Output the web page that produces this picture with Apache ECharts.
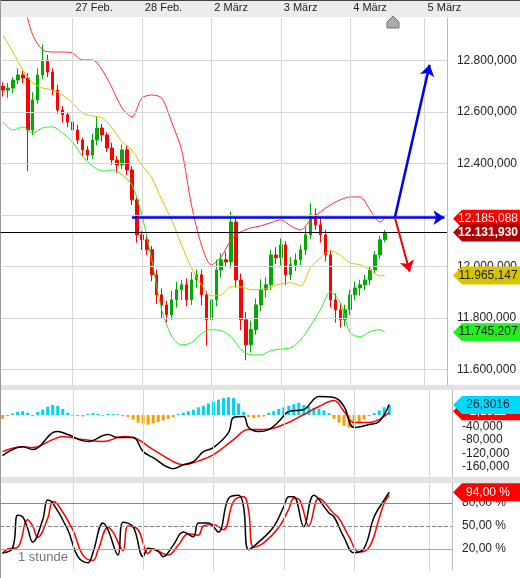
<!DOCTYPE html>
<html>
<head>
<meta charset="utf-8">
<script src="https://cdn.jsdelivr.net/npm/echarts@6/dist/echarts.min.js"></script>
<style>html,body{margin:0;padding:0;background:#fff}#chart{width:520px;height:578px}</style>
</head>
<body>
<div id="chart"></div>
<script>
// Kurse in Tausend (12800 = 12.800,000)
var closes = [12685,12693,12724,12744,12732,12530,12647,12744,12802,12755,12685,12608,12589,12561,12530,12491,12453,12433,12491,12538,
	12511,12460,12414,12394,12453,12375,12259,12123,12104,12065,11968,11890,11851,11813,11871,11910,11929,11871,11948,11968,
	11890,11793,11871,11987,12026,12018,12173,11948,11793,11696,11755,11851,11910,11929,12045,12034,12084,11968,12007,12026,
	12065,12123,12201,12162,12123,12045,11871,11832,11793,11832,11890,11917,11929,11948,11987,12045,12104,12132];
var wickUp = [15,20,12,25,15,20,30,25,60,20,15,20,15,10,15,20,10,15,25,45,
	15,10,20,15,20,15,15,10,15,20,15,20,25,15,35,30,20,25,30,20,
	20,15,30,40,25,30,40,20,25,30,35,25,40,30,20,30,25,15,30,25,
	20,30,45,25,30,20,20,25,25,20,20,25,20,20,15,15,15,10];
var wickDn = [25,30,20,15,20,160,20,15,15,20,20,15,30,20,20,15,25,20,15,20,
	25,15,20,30,15,20,20,30,40,20,25,35,50,30,20,30,40,25,20,30,
	40,100,20,25,30,20,25,30,40,60,30,20,25,30,20,25,30,40,20,25,
	20,20,15,20,30,25,30,50,30,25,20,20,30,20,20,15,15,10];
var dayIdx = [14, 28, 42, 56, 70, 85];
var dayNames = ['27 Feb.', '28 Feb.', '2 März', '3 März', '4 März', '5 März'];
// Bollinger (jede zweite Kerze, letzter Wert Kerze 77)
var bandIdx = [0,2,4,6,8,10,12,14,16,18,20,22,24,26,28,30,32,34,36,38,40,42,44,46,48,50,52,54,56,58,60,62,64,66,68,70,72,74,76,77];
var bandUpper = [13100,13040,13015,12899,12841,12833,12833,12829,12802,12802,12763,12693,12616,12581,12654,12666,12654,12561,12453,12239,
	12084,12007,12038,12104,12135,12150,12158,12170,12181,12158,12142,12181,12212,12239,12259,12270,12270,12220,12173,12189];
var bandMid = [12899,12833,12763,12713,12693,12686,12666,12635,12596,12585,12577,12538,12484,12453,12394,12344,12259,12181,12084,11995,
	11929,11886,11890,11921,11921,11910,11910,11921,11933,11937,11925,11995,12034,12061,12045,12014,12007,11987,11964,11965];
var bandLower = [12561,12530,12542,12519,12538,12542,12519,12484,12429,12391,12371,12375,12356,12317,12200,12026,11832,11731,11696,11704,
	11739,11755,11751,11727,11677,11657,11657,11673,11680,11684,11715,11770,11832,11902,11859,11743,11727,11747,11755,11745];
var levelBlue = 12190;
var lastPrice = 12131.93;
var tagUpper = 12185.088, tagMid = 11965.147, tagLower = 11745.207;
// MACD
var macdIdx = [0,4,6,10,11,13,17,21,23,26,28,30,34,36,38,40,42,45,46,48,49,51,53,55,57,60,63,66,68,70,73,75,77];
var macdVal = [-125.9,-99.3,-108.1,-57.8,-54.8,-63.7,-84.4,-63.7,-72.6,-72.6,-114.1,-131.9,-164.5,-152.6,-143.7,-114.1,-102.2,-57.8,-13.3,-10.4,
	-43.0,-54.8,-48.9,-25.2,4.4,10.4,48.9,45.9,19.3,-43.0,-34.1,-25.2,25.2];
var sigIdx = [0,4,6,10,12,16,20,24,26,30,34,36,38,42,46,49,52,56,60,63,66,68,70,73,75,77];
var sigVal = [-114.1,-99.3,-102.2,-78.5,-69.6,-78.5,-84.4,-69.6,-72.6,-108.1,-143.7,-152.6,-146.7,-123.0,-78.5,-48.9,-48.9,-34.1,-4.4,19.3,
	37.0,4.4,-28.1,-28.1,-19.3,1.5];
var histVal = [-10,-3,4,8,10,6,-3,8,14,22,26,24,16,6,-2,-3,-4,3,5,3,
	-2,3,3,2,-3,-5,-12,-20,-22,-25,-22,-18,-14,-10,-5,3,6,10,14,20,
	24,30,35,40,44,46,44,30,8,-5,-8,-6,-4,6,10,16,20,24,28,32,
	26,22,18,16,12,5,-10,-20,-28,-32,-30,-22,-12,-3,5,12,20,26.3016];
var tagHist = 26.3016, tagSig = 2.1811;
// Stochastik
var kIdx = [0,2,3,4,5,6,8,9,10,13,15,17,18,20,21,23,24,26,28,29,31,32,34,36,38,39,41,43,45,47,48,49,51,54,56,57,58,60,62,65,66,68,70,72,74,76,77];
var kVal = [15,21,64,62,47,29,58,84,80,45,10,2,15,54,45,12,55,49,10,21,17,10,25,42,36,54,54,42,86,90,75,19,29,49,75,88,88,49,90,67,62,35,15,21,62,84,94];
var dIdx = [0,1,3,5,6,7,9,10,11,14,16,18,19,21,22,24,25,27,29,30,32,33,35,37,39,40,42,44,46,48,49,50,52,55,57,58,59,61,63,66,67,69,71,73,75,76,77];
var dVal = [14,20,22,58,50,35,60,82,78,45,12,5,18,48,42,18,50,45,14,20,14,12,25,40,38,50,52,45,82,88,70,22,28,48,72,86,85,50,86,66,60,36,16,22,60,80,90];
var stochLevels = [80, 50, 20];

function pairs(idx, val) {
	var r = [];
	for (var i = 0; i < idx.length; i++) r.push([idx[i], val[i]]);
	return r;
}
function fmtPrice(v) {
	var s = (v / 1000).toFixed(6).split('.');
	return s[0] + '.' + s[1].slice(0, 3) + ',' + s[1].slice(3);
}
function fmt3(v) { return v.toFixed(3).replace('.', ','); }

var cats = [];
for (var i = 0; i < 90; i++) {
	var d = dayIdx.indexOf(i);
	cats.push(d >= 0 ? dayNames[d] : '');
}
var candles = [];
for (var i = 0; i < closes.length; i++) {
	var o = i == 0 ? 12700 : closes[i - 1];
	var c = closes[i];
	candles.push([o, c, Math.min(o, c) - wickDn[i], Math.max(o, c) + wickUp[i]]);
}
var hist = [];
for (var i = 0; i < histVal.length; i++) {
	hist.push({value: histVal[i], itemStyle: {color: histVal[i] >= 0 ? '#00d4f5' : '#f5a000'}});
}

var dayLines = {
	silent: true, symbol: 'none', label: {show: false},
	lineStyle: {color: '#d6d6d6', type: 'solid', width: 1},
	data: dayIdx.map(function (d) { return {xAxis: d}; })
};
var axisLab = {color: '#222', fontSize: 12, fontFamily: 'Liberation Sans', margin: 10};

function seg(a, b, color, width, arrow) {
	return [
		{coord: a, symbol: 'none', lineStyle: {color: color, width: width, type: 'solid'}},
		{coord: b, symbol: arrow ? 'arrow' : 'none', symbolSize: 11}
	];
}

var dom = document.getElementById('chart');
var myChart = echarts.init(dom);
var option = {
	animation: false,
	grid: [
		{left: 0, right: 68, top: 18, height: 367},
		{left: 0, right: 68, top: 390, height: 87},
		{left: 0, right: 68, top: 483, height: 87}
	],
	xAxis: [0, 1, 2].map(function (g) {
		return {
			type: 'category', gridIndex: g, data: cats, boundaryGap: true,
			position: 'top', axisLine: {show: false}, axisTick: {show: false},
			splitLine: {show: false},
			axisLabel: g == 0 ? {show: true, interval: 0, align: 'left', padding: [0, 0, 0, 3],
				margin: 5, fontSize: 11, color: '#222', fontFamily: 'Liberation Sans'} : {show: false}
		};
	}),
	yAxis: [
		{
			type: 'value', gridIndex: 0, position: 'right', min: 11540, max: 12965,
			axisLine: {show: true, lineStyle: {color: '#bbb'}}, axisTick: {show: false},
			splitLine: {show: false},
			axisLabel: Object.assign({customValues: [11600, 11800, 12000, 12400, 12600, 12800], formatter: fmtPrice}, axisLab)
		},
		{
			type: 'value', gridIndex: 1, position: 'right', min: -189, max: 68,
			axisLine: {show: true, lineStyle: {color: '#bbb'}}, axisTick: {show: false},
			splitLine: {show: false},
			axisLabel: Object.assign({customValues: [-160, -120, -80, -40], formatter: fmt3}, axisLab)
		},
		{
			type: 'value', gridIndex: 1, position: 'right', min: -161, max: 65, show: false
		},
		{
			type: 'value', gridIndex: 2, position: 'right', min: -7.4, max: 106,
			axisLine: {show: true, lineStyle: {color: '#bbb'}}, axisTick: {show: false},
			splitLine: {show: false},
			axisLabel: Object.assign({customValues: [20, 50, 80], formatter: function (v) { return v.toFixed(2).replace('.', ',') + ' %'; }}, axisLab)
		}
	],
	series: [
		{
			type: 'line', xAxisIndex: 0, yAxisIndex: 0, data: [], silent: true,
			markLine: {
				silent: true, symbol: 'none', label: {show: false},
				lineStyle: {color: '#d6d6d6', type: 'solid', width: 1},
				data: dayIdx.map(function (d) { return {xAxis: d}; }).concat(
					[11600, 11800, 12000, 12200, 12400, 12600, 12800].map(function (v) { return {yAxis: v}; }))
			}
		},
		{
			type: 'candlestick', xAxisIndex: 0, yAxisIndex: 0, data: candles, barWidth: 3,
			itemStyle: {color: '#00aa00', color0: '#ff0000', borderColor: '#00aa00', borderColor0: '#ff0000'},
			markLine: {
				silent: true, symbol: 'none', label: {show: false}, z: 10,
				data: [
					[{yAxis: lastPrice, symbol: 'none', lineStyle: {color: '#000', width: 1, type: 'solid'}}][0],
					seg([26, levelBlue], [89, levelBlue], '#0000ee', 2.5, true),
					seg([79, levelBlue], [86, 12783], '#0000ee', 2.5, true),
					seg([79, levelBlue], [82, 11980], '#ee0000', 2, true)
				]
			}
		},
		{type: 'line', xAxisIndex: 0, yAxisIndex: 0, data: pairs(bandIdx, bandUpper), smooth: 0.3, symbol: 'none', lineStyle: {color: '#ff3030', width: 1}},
		{type: 'line', xAxisIndex: 0, yAxisIndex: 0, data: pairs(bandIdx, bandMid), smooth: 0.3, symbol: 'none', lineStyle: {color: '#e0c000', width: 1}},
		{type: 'line', xAxisIndex: 0, yAxisIndex: 0, data: pairs(bandIdx, bandLower), smooth: 0.3, symbol: 'none', lineStyle: {color: '#30ee30', width: 1}},
		{type: 'line', xAxisIndex: 1, yAxisIndex: 1, data: [], markLine: dayLines},
		{type: 'bar', xAxisIndex: 1, yAxisIndex: 2, data: hist, barWidth: 3},
		{type: 'line', xAxisIndex: 1, yAxisIndex: 1, data: pairs(sigIdx, sigVal), smooth: 0.4, symbol: 'none', lineStyle: {color: '#ff0000', width: 1.5}},
		{type: 'line', xAxisIndex: 1, yAxisIndex: 1, data: pairs(macdIdx, macdVal), smooth: 0.4, symbol: 'none', lineStyle: {color: '#000', width: 1.5}},
		{
			type: 'line', xAxisIndex: 2, yAxisIndex: 3, data: [],
			markLine: {
				silent: true, symbol: 'none', label: {show: false},
				data: dayLines.data.concat([
					{yAxis: stochLevels[0], lineStyle: {color: '#00c0dd', type: 'solid', width: 1}},
					{yAxis: stochLevels[1], lineStyle: {color: '#888', type: 'dashed', width: 1}},
					{yAxis: stochLevels[2], lineStyle: {color: '#f0a000', type: 'solid', width: 1}}
				]),
				lineStyle: {color: '#d6d6d6', type: 'solid', width: 1}
			}
		},
		{type: 'line', xAxisIndex: 2, yAxisIndex: 3, data: pairs(dIdx, dVal), smooth: 0.4, symbol: 'none', lineStyle: {color: '#ff0000', width: 1.5}},
		{type: 'line', xAxisIndex: 2, yAxisIndex: 3, data: pairs(kIdx, kVal), smooth: 0.4, symbol: 'none', lineStyle: {color: '#000', width: 1.5}}
	]
};
myChart.setOption(option);

// Kursmarken rechts
function tag(yAxisIndex, value, text, bg, fg, bold, z) {
	var y = myChart.convertToPixel({yAxisIndex: yAxisIndex}, value);
	var x0 = 453;
	return {
		type: 'group', children: [
			{type: 'polygon', z: z, shape: {points: [[x0, y], [x0 + 9, y - 9], [520, y - 9], [520, y + 9], [x0 + 9, y + 9]]}, style: {fill: bg}},
			{type: 'text', z: z + 1, x: 488, y: y, style: {text: text, fill: fg, align: 'center', verticalAlign: 'middle',
				font: (bold ? 'bold ' : '') + '12px Liberation Sans'}}
		]
	};
}
myChart.setOption({
	graphic: [
		{type: 'rect', shape: {x: 0, y: 0, width: 520, height: 17}, style: {fill: '#ececec'}, z: -10},
		{type: 'rect', shape: {x: 0, y: 0, width: 520, height: 1}, style: {fill: '#444'}, z: -9},
		{type: 'rect', shape: {x: 0, y: 385, width: 520, height: 5}, style: {fill: '#e2e2e2'}, z: -10},
		{type: 'rect', shape: {x: 0, y: 477, width: 520, height: 6}, style: {fill: '#e2e2e2'}, z: -10},
		{type: 'rect', shape: {x: 0, y: 0, width: 1, height: 578}, style: {fill: '#999'}, z: -9},
		{type: 'polygon', shape: {points: [[387, 28], [387, 22], [393, 16], [399, 22], [399, 28]]}, style: {fill: '#aaa', stroke: '#777'}},
		{type: 'text', x: 18, y: 551, style: {text: '1 stunde', fill: '#777', font: '13px Liberation Sans'}},
		tag(0, tagUpper, fmtPrice(tagUpper), '#ff0000', '#fff', false, 100),
		tag(0, lastPrice, fmtPrice(lastPrice), '#b00000', '#fff', true, 102),
		tag(0, tagMid, fmtPrice(tagMid), '#d8c400', '#222', false, 100),
		tag(0, tagLower, fmtPrice(tagLower), '#22ee22', '#222', false, 100),
		tag(1, 5, tagSig.toFixed(4).replace('.', ','), '#ff0000', '#fff', false, 100),
		tag(2, tagHist, tagHist.toFixed(4).replace('.', ','), '#00d8ff', '#222', false, 102),
		tag(3, 94, '94,00 %', '#ff0000', '#fff', false, 100)
	]
});
window.addEventListener('resize', function () { myChart.resize(); });
</script>
</body>
</html>
